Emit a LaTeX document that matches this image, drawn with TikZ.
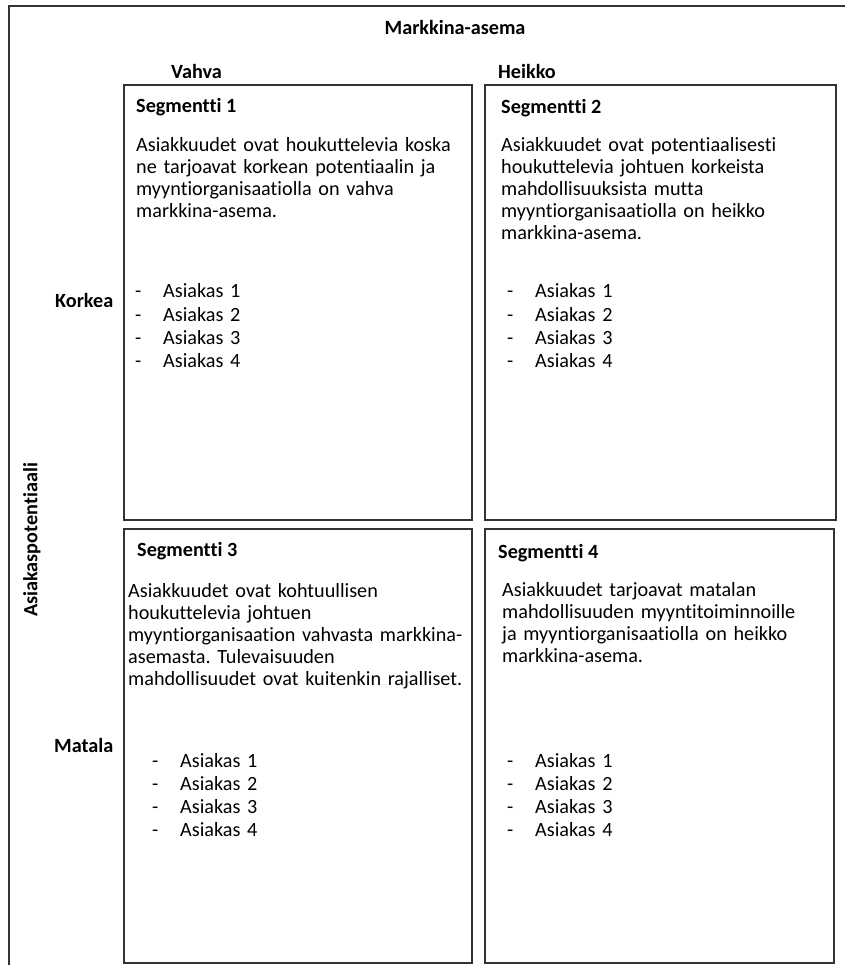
\documentclass[tikz,border=0pt]{standalone}
\usepackage{fontspec}
\setmainfont[Ligatures=NoCommon]{Carlito}
\frenchspacing
\tikzset{
  box/.style={draw=black!80, line width=1.2pt},
  para/.style={anchor=base west, inner sep=0pt, text width=345pt, align=left, font=\fontsize{20.2}{22}\selectfont\frenchspacing},
  plist/.style={anchor=base west, inner sep=0pt, text width=200pt, align=left, font=\fontsize{20.2}{23.2}\selectfont},
  head/.style={anchor=base west, inner sep=0pt, font=\fontsize{20.2}{22}\selectfont\bfseries},
  lbl/.style={inner sep=0pt, font=\fontsize{20.2}{22}\selectfont\bfseries},
}
\newcommand{\itm}[1]{\makebox[28pt][l]{-}Asiakas #1}
\begin{document}
\begin{tikzpicture}[x=1pt,y=-1pt]
\useasboundingbox (0,0) rectangle (845,965);
% outer frame (clipped at right and bottom)
\draw[box] (9,965) -- (9,6) -- (845,6);
% quadrants
\draw[box] (124,85) rectangle (472,520);
\draw[box] (485,85) rectangle (836,520);
\draw[box] (124,529) rectangle (472,963);
\draw[box] (485,529) rectangle (834,963);
% axis labels
\node[lbl, anchor=base] (ma) at (455,35) {Markkina-asema};
\node[lbl, anchor=base west] (vahva) at (171,79) {Vahva};
\node[lbl, anchor=base west] (heikko) at (498,79) {Heikko};
\node[lbl, anchor=base west] (korkea) at (55,307) {Korkea};
\node[lbl, anchor=base west] (matala) at (54,752) {Matala};
\node[lbl, rotate=90] (ap) at (32,540) {Asiakaspotentiaali};
% segment 1
\node[head] (h1) at (136,113) {Segmentti 1};
\node[para] (p1) at (136,152) {Asiakkuudet ovat houkuttelevia koska\\ne tarjoavat korkean potentiaalin ja\\myyntiorganisaatiolla on vahva\\markkina-asema.};
\node[plist] (l1) at (135,298) {\itm{1}\\\itm{2}\\\itm{3}\\\itm{4}};
% segment 2
\node[head] (h2) at (501,114) {Segmentti 2};
\node[para] (p2) at (501,152) {Asiakkuudet ovat potentiaalisesti\\houkuttelevia johtuen korkeista\\mahdollisuuksista mutta\\myyntiorganisaatiolla on heikko\\markkina-asema.};
\node[plist] (l2) at (507,298) {\itm{1}\\\itm{2}\\\itm{3}\\\itm{4}};
% segment 3
\node[head] (h3) at (137,556) {Segmentti 3};
\node[para] (p3) at (128,597) {Asiakkuudet ovat kohtuullisen\\houkuttelevia johtuen\\myyntiorganisaation vahvasta markkina-\\asemasta. Tulevaisuuden\\mahdollisuudet ovat kuitenkin rajalliset.};
\node[plist] (l3) at (152,767) {\itm{1}\\\itm{2}\\\itm{3}\\\itm{4}};
% segment 4
\node[head] (h4) at (498,558) {Segmentti 4};
\node[para] (p4) at (502,596) {Asiakkuudet tarjoavat matalan\\mahdollisuuden myyntitoiminnoille\\ja myyntiorganisaatiolla on heikko\\markkina-asema.};
\node[plist] (l4) at (507,767) {\itm{1}\\\itm{2}\\\itm{3}\\\itm{4}};
\end{tikzpicture}
\end{document}
